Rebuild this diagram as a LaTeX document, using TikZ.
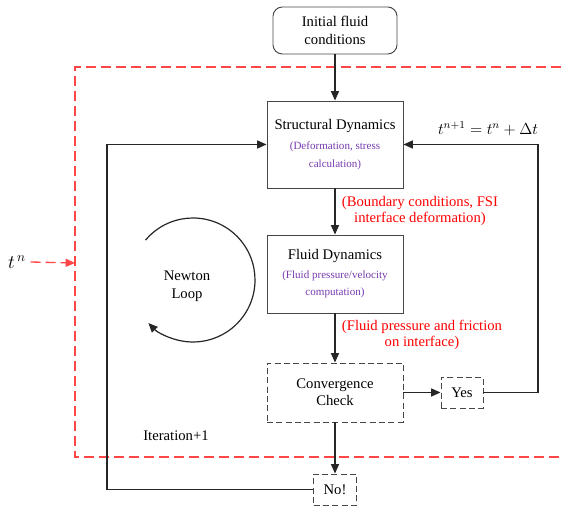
\documentclass[tikz,border=0pt]{standalone}
\usepackage{fontspec}
\setmainfont{Liberation Serif}
\usetikzlibrary{arrows.meta, calc}
\definecolor{subpurple}{RGB}{120,60,175}
\definecolor{boxgray}{RGB}{70,70,70}
\definecolor{framered}{RGB}{255,70,70}
\newcommand{\subfont}{\fontsize{8.3}{11}\selectfont\color{subpurple}}

\begin{document}
\begin{tikzpicture}[
x=0.75pt, y=0.75pt,
    process/.style={rectangle, draw=boxgray, line width=0.7pt, minimum width=102pt, align=center, inner sep=2pt, font=\fontsize{11}{13}\selectfont},
    start/.style={process, rounded corners=7pt, minimum width=93pt, minimum height=35.25pt},
    check/.style={process, dash pattern=on 4.5pt off 2.5pt},
    small/.style={check, minimum width=31.5pt, minimum height=23.25pt},
    note/.style={align=center, text=red, font=\fontsize{11}{12}\selectfont},
    line/.style={draw=black!85, line width=0.9pt, -{Triangle[length=7pt, width=6pt]}},
    frame/.style={draw=framered, line width=1pt, dash pattern=on 7.5pt off 3.75pt}
]
    \useasboundingbox (0,0) rectangle (561,507);

    % --- Time step frame ---
    \draw[frame] (561,440) -- (75,440) -- (75,50) -- (561,50);
    \node (tn) at (17,245) {\fontsize{14}{16}\selectfont$t^{\,n}$};
    \coordinate (framew) at (75,244);
    \draw[frame, -{Triangle[length=7pt, width=6pt]}] (tn.east) -- (framew);

    % --- Solver blocks ---
    \node[start] (init) at (335,476.5) {Initial fluid\\conditions};
    \node[process, minimum height=65.25pt] (struct) at (335,362.5)
        {Structural Dynamics\\[2pt]\subfont (Deformation, stress\\\subfont calculation)};
    \node[process, minimum height=58.5pt] (fluid) at (335,233)
        {Fluid Dynamics\\[1pt]\subfont (Fluid pressure/velocity\\\subfont computation)};
    \node[check, minimum height=44.25pt] (conv) at (335,114.5) {Convergence\\Check};
    \node[small] (yes) at (462,114.5) {Yes};
    \node[small, minimum width=32.25pt] (no) at (335,17.5) {No!};

    \draw[line] (init) -- (struct);
    \draw[line] (struct) -- (fluid);
    \draw[line] (fluid) -- (conv);
    \draw[line] (conv) -- (no);
    \draw[line] (conv) -- (yes);

    % Exchanged quantities
    \node[note] (bcnote) at (420,296) {(Boundary conditions, FSI\\interface deformation)};
    \node[note] (fpnote) at (422,172) {(Fluid pressure and friction\\on interface)};

    % -- Time advance (converged) --
    \coordinate (rloop) at (538,114.5);
    \draw[line] (yes.east) -- (rloop) |- (struct.east);
    \node (tstep) at (488,378) {\fontsize{12}{14}\selectfont$t^{n+1} = t^{n} + \Delta t$};

    % -- Newton iteration (not converged) --
    \coordinate (lloop) at (107,17.5);
    \draw[line] (no.west) -- (lloop) |- (struct.west);
    \node[align=center, font=\fontsize{11}{13.5}\selectfont] (newton) at (187,221) {Newton\\Loop};
    \draw[line] ($(193,227)+(140:46.5pt)$) arc[start angle=140, end angle=-136, radius=46.5pt];
    \node[font=\fontsize{11}{13}\selectfont] (iter) at (176,71) {Iteration+1};

\end{tikzpicture}
\end{document}
